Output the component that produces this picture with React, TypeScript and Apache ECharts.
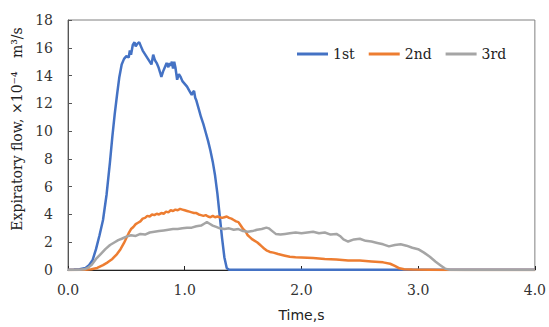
import React, { useEffect, useRef } from "react";
import * as echarts from "echarts";

const seriesNames = ["1st", "2nd", "3rd"];
const xTicks = [0, 1, 2, 3, 4];
const yTitle = "Expiratory flow, ×10⁻⁴   m³/s";

const time1 = [0, 0.05, 0.10, 0.15, 0.18, 0.21, 0.24, 0.27, 0.30, 0.33, 0.36, 0.38, 0.40, 0.42, 0.44, 0.46, 0.48, 0.50, 0.52, 0.53, 0.54, 0.555, 0.57, 0.58, 0.595, 0.61, 0.625, 0.64, 0.655, 0.67, 0.685, 0.70, 0.715, 0.73, 0.745, 0.76, 0.775, 0.79, 0.80, 0.815, 0.83, 0.845, 0.86, 0.87, 0.88, 0.89, 0.90, 0.91, 0.92, 0.935, 0.95, 0.965, 0.98, 1.00, 1.02, 1.04, 1.06, 1.07, 1.08, 1.09, 1.10, 1.12, 1.14, 1.16, 1.18, 1.20, 1.22, 1.24, 1.26, 1.28, 1.30, 1.32, 1.34, 1.36, 1.38, 2.0, 3.0, 4.0];
const flow1 = [0.02, 0.03, 0.05, 0.15, 0.35, 0.7, 1.5, 2.5, 3.6, 5.4, 7.8, 9.6, 11.2, 12.6, 13.9, 14.8, 15.2, 15.4, 15.3, 15.8, 15.5, 16.2, 16.4, 16.1, 16.3, 16.4, 16.1, 15.8, 15.6, 15.4, 15.2, 15.0, 14.8, 15.5, 15.1, 14.9, 14.6, 14.2, 13.9, 14.3, 14.6, 14.9, 14.6, 14.9, 14.7, 15.0, 14.5, 15.0, 14.6, 13.7, 14.1, 13.9, 13.6, 13.4, 13.2, 12.9, 12.6, 12.8, 12.9, 12.4, 12.2, 11.6, 11.0, 10.5, 9.9, 9.3, 8.6, 7.8, 6.8, 5.5, 3.9, 2.3, 0.9, 0.15, 0.02, 0.02, 0.02, 0.02];

const time2 = [0, 0.15, 0.20, 0.25, 0.30, 0.34, 0.38, 0.42, 0.45, 0.48, 0.50, 0.52, 0.54, 0.56, 0.58, 0.60, 0.62, 0.64, 0.66, 0.68, 0.70, 0.72, 0.74, 0.76, 0.78, 0.80, 0.82, 0.84, 0.86, 0.88, 0.90, 0.92, 0.94, 0.96, 0.98, 1.00, 1.02, 1.04, 1.06, 1.08, 1.10, 1.12, 1.14, 1.16, 1.18, 1.20, 1.22, 1.24, 1.26, 1.28, 1.30, 1.32, 1.34, 1.36, 1.38, 1.40, 1.42, 1.44, 1.46, 1.48, 1.50, 1.52, 1.54, 1.56, 1.58, 1.60, 1.62, 1.64, 1.66, 1.68, 1.70, 1.73, 1.76, 1.80, 1.85, 1.90, 1.95, 2.0, 2.1, 2.2, 2.3, 2.4, 2.5, 2.6, 2.7, 2.76, 2.80, 2.84, 2.88, 2.95, 3.1, 3.2, 4.0];
const flow2 = [0, 0.02, 0.05, 0.15, 0.35, 0.55, 0.8, 1.15, 1.5, 1.95, 2.3, 2.65, 2.95, 3.1, 3.3, 3.4, 3.5, 3.7, 3.75, 3.9, 3.85, 4.0, 3.95, 4.05, 4.0, 4.1, 4.05, 4.2, 4.15, 4.3, 4.25, 4.35, 4.3, 4.4, 4.35, 4.3, 4.25, 4.2, 4.15, 4.1, 4.1, 4.0, 3.95, 3.9, 3.95, 3.85, 3.8, 3.9, 3.8, 3.85, 3.8, 3.75, 3.8, 3.85, 3.75, 3.7, 3.6, 3.5, 3.45, 3.2, 2.95, 2.8, 2.5, 2.35, 2.2, 2.1, 2.0, 1.85, 1.7, 1.55, 1.42, 1.3, 1.25, 1.15, 1.05, 0.95, 0.92, 0.9, 0.86, 0.8, 0.75, 0.68, 0.68, 0.62, 0.55, 0.45, 0.3, 0.12, 0.05, 0.03, 0.02, 0, 0];

const time3 = [0, 0.10, 0.14, 0.17, 0.20, 0.24, 0.28, 0.32, 0.36, 0.40, 0.43, 0.46, 0.50, 0.54, 0.58, 0.62, 0.66, 0.70, 0.74, 0.78, 0.82, 0.86, 0.90, 0.94, 0.98, 1.02, 1.06, 1.10, 1.14, 1.17, 1.19, 1.21, 1.24, 1.27, 1.30, 1.34, 1.38, 1.42, 1.46, 1.50, 1.54, 1.58, 1.62, 1.66, 1.70, 1.72, 1.75, 1.78, 1.82, 1.86, 1.90, 1.95, 2.00, 2.05, 2.10, 2.15, 2.20, 2.25, 2.30, 2.33, 2.36, 2.40, 2.45, 2.50, 2.55, 2.60, 2.65, 2.70, 2.75, 2.80, 2.85, 2.90, 2.95, 3.00, 3.05, 3.10, 3.15, 3.19, 3.23, 3.27, 3.4, 4.0];
const flow3 = [0, 0.02, 0.05, 0.15, 0.35, 0.8, 1.15, 1.5, 1.8, 2.0, 2.15, 2.25, 2.4, 2.5, 2.45, 2.6, 2.55, 2.7, 2.75, 2.8, 2.85, 2.9, 2.95, 2.95, 3.0, 3.05, 3.05, 3.15, 3.2, 3.35, 3.45, 3.35, 3.2, 3.1, 3.0, 2.95, 3.0, 2.9, 2.95, 2.8, 2.75, 2.8, 2.9, 2.95, 3.05, 3.0, 2.8, 2.6, 2.55, 2.6, 2.65, 2.7, 2.65, 2.7, 2.75, 2.65, 2.7, 2.55, 2.6, 2.45, 2.2, 2.05, 2.2, 2.25, 2.1, 2.05, 1.95, 1.85, 1.7, 1.8, 1.85, 1.75, 1.6, 1.5, 1.25, 0.95, 0.6, 0.35, 0.1, 0.02, 0, 0];

const colors = ["#4472C4", "#ED7D31", "#A5A5A5"];

const zip = (t: number[], v: number[]) => t.map((x, i) => [x, v[i]]);

export default function App() {
  const ref = useRef<HTMLDivElement>(null);
  useEffect(() => {
    document.body.style.margin = "0";
    const chart = echarts.init(ref.current!, null, { renderer: "svg" });
    const serif = "DejaVu Serif";
    const data = [zip(time1, flow1), zip(time2, flow2), zip(time3, flow3)];
    chart.setOption({
      animation: false,
      color: colors,
      grid: {
        left: 68,
        right: 10,
        top: 20,
        bottom: 55,
        show: true,
        borderColor: "#808080",
        borderWidth: 1,
      },
      graphic: [
        {
          type: "text",
          x: 17,
          y: 129,
          rotation: Math.PI / 2,
          style: {
            text: yTitle,
            font: `14px "${serif}"`,
            fill: "#222",
            align: "center",
            verticalAlign: "middle",
          },
        },
      ],
      legend: {
        data: seriesNames,
        left: 292,
        top: 42,
        icon: "rect",
        itemWidth: 31,
        itemHeight: 3,
        itemGap: 14,
        textStyle: { fontFamily: serif, fontSize: 14, color: "#222" },
      },
      xAxis: {
        type: "value",
        min: 0,
        max: 4,
        interval: 1,
        name: "Time,s",
        nameLocation: "middle",
        nameGap: 38,
        nameTextStyle: { fontFamily: "DejaVu Sans", fontSize: 14, color: "#222" },
        axisLine: { lineStyle: { color: "#222", width: 1 } },
        axisTick: { inside: true, length: 4, lineStyle: { color: "#222" } },
        splitLine: { show: false },
        axisLabel: {
          margin: 13,
          fontFamily: serif,
          fontSize: 14,
          color: "#333",
          formatter: (v: number) => (xTicks.includes(v) ? v.toFixed(1) : ""),
        },
      },
      yAxis: {
        type: "value",
        min: 0,
        max: 18,
        interval: 2,
        axisLine: { show: true, lineStyle: { color: "#555", width: 1 } },
        axisTick: { show: true, inside: true, length: 4, lineStyle: { color: "#555" } },
        splitLine: { show: false },
        axisLabel: { margin: 15, fontFamily: serif, fontSize: 14, color: "#333" },
      },
      series: seriesNames.map((name, i) => ({
        name,
        type: "line",
        data: data[i],
        symbol: "none",
        smooth: false,
        lineStyle: { width: 2.5, color: colors[i] },
        itemStyle: { color: colors[i] },
      })),
    });
    return () => chart.dispose();
  }, []);
  return <div ref={ref} style={{ width: 549, height: 327 }} />;
}
